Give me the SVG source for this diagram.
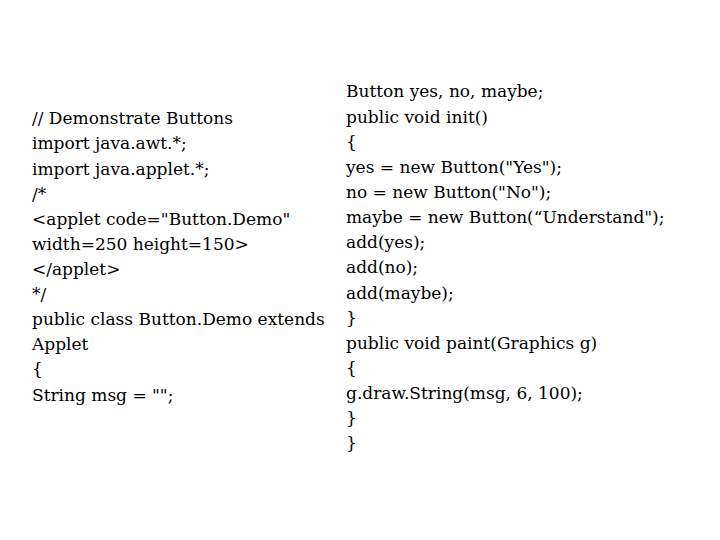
<svg xmlns="http://www.w3.org/2000/svg" width="720" height="540" viewBox="0 0 720 540">
<style>text{font-family:"DejaVu Serif","Liberation Serif",serif;font-size:17px;fill:#000}</style>
<rect width="720" height="540" fill="#fff"/>
<g id="left">
<text x="32" y="124">// Demonstrate Buttons</text>
<text x="32" y="149">import java.awt.*;</text>
<text x="32" y="175">import java.applet.*;</text>
<text x="32" y="200">/*</text>
<text x="32" y="225">&lt;applet code="Button.Demo"</text>
<text x="32" y="250">width=250 height=150&gt;</text>
<text x="32" y="275">&lt;/applet&gt;</text>
<text x="32" y="300">*/</text>
<text x="32" y="325">public class Button.Demo extends</text>
<text x="32" y="350">Applet</text>
<text x="32" y="375">{</text>
<text x="32" y="401">String msg = "";</text>
</g>
<g id="right">
<text x="346" y="97">Button yes, no, maybe;</text>
<text x="346" y="123">public void init()</text>
<text x="346" y="148">{</text>
<text x="346" y="173">yes = new Button("Yes");</text>
<text x="346" y="198">no = new Button("No");</text>
<text x="346" y="223">maybe = new Button(“Understand");</text>
<text x="346" y="248">add(yes);</text>
<text x="346" y="273">add(no);</text>
<text x="346" y="299">add(maybe);</text>
<text x="346" y="324">}</text>
<text x="346" y="349">public void paint(Graphics g)</text>
<text x="346" y="374">{</text>
<text x="346" y="399">g.draw.String(msg, 6, 100);</text>
<text x="346" y="424">}</text>
<text x="346" y="449">}</text>
</g>
</svg>
